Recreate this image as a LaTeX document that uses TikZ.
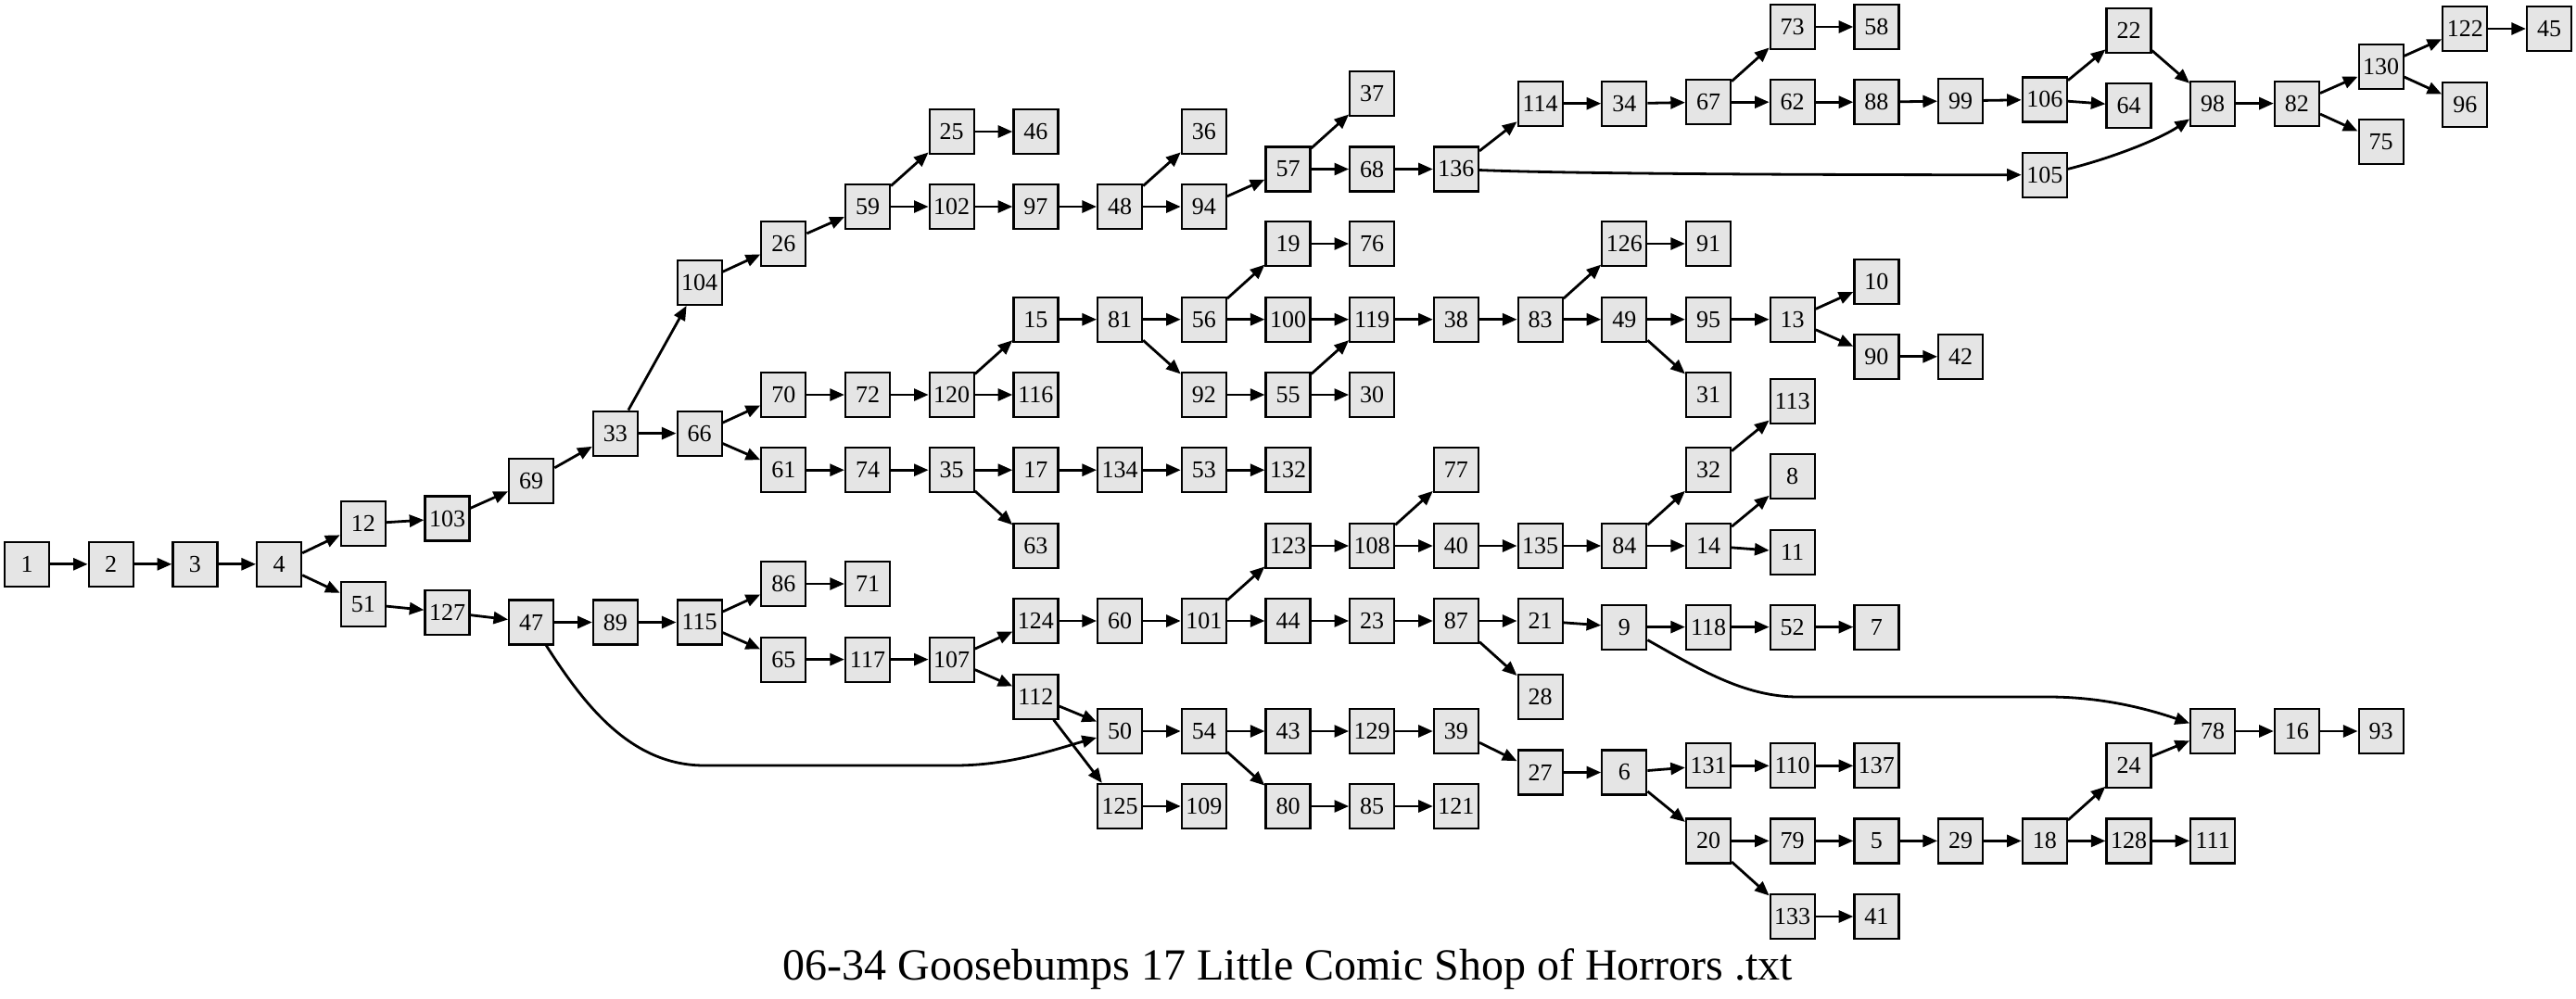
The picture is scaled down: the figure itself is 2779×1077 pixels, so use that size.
\documentclass[tikz,border=0pt]{standalone}
\usepackage{fontspec}
\setmainfont{Liberation Serif}
\usetikzlibrary{arrows.meta}

\definecolor{boxgrey}{RGB}{229,229,229}
\tikzset{every picture/.style={line width=1pt}}
\tikzset{
  pg/.style={draw=black, fill=boxgrey, line width=1.1pt, minimum width=24pt, minimum height=24pt, inner sep=0pt, font=\fontsize{13}{15}\selectfont},
  link/.style={line width=1.4pt, -{Triangle[length=7.8pt,width=6.5pt]}},
}

\begin{document}
\begin{tikzpicture}[x=0.5pt,y=0.5pt,yscale=-1,xscale=1]
	%set diagram area: 2779 x 1077
	\useasboundingbox (0,0) rectangle (2779,1077);

	%Shape: Pages, left part
	\node [pg] (p1) at (29,608.8) {1};
	\node [pg] (p2) at (119.7,608.8) {2};
	\node [pg] (p3) at (210.4,608.8) {3};
	\node [pg] (p4) at (301.1,608.8) {4};
	\node [pg] (p12) at (391.8,565.3) {12};
	\node [pg] (p51) at (391.8,651.6) {51};
	\node [pg] (p103) at (482.5,559.5) {103};
	\node [pg] (p127) at (482.5,660.7) {127};
	\node [pg] (p69) at (573.2,519) {69};
	\node [pg] (p47) at (573.2,671.5) {47};
	\node [pg] (p33) at (663.9,467.6) {33};
	\node [pg] (p89) at (663.9,671.5) {89};
	\node [pg] (p104) at (754.6,304.8) {104};
	\node [pg] (p66) at (754.6,467.6) {66};
	\node [pg] (p115) at (754.6,671.5) {115};
	\node [pg] (p26) at (845.3,263) {26};
	\node [pg] (p70) at (845.3,426) {70};
	\node [pg] (p61) at (845.3,507.2) {61};
	\node [pg] (p86) at (845.3,630) {86};
	\node [pg] (p65) at (845.3,711.6) {65};
	\node [pg] (p59) at (936,223) {59};
	\node [pg] (p72) at (936,426) {72};
	\node [pg] (p74) at (936,507.2) {74};
	\node [pg] (p71) at (936,630) {71};
	\node [pg] (p117) at (936,711.6) {117};
	\node [pg] (p25) at (1026.7,142) {25};
	\node [pg] (p102) at (1026.7,223) {102};
	\node [pg] (p120) at (1026.7,426) {120};
	\node [pg] (p35) at (1026.7,507.2) {35};
	\node [pg] (p107) at (1026.7,711.6) {107};
	\node [pg] (p46) at (1117.4,142) {46};
	\node [pg] (p97) at (1117.4,223) {97};
	\node [pg] (p15) at (1117.4,344.7) {15};
	\node [pg] (p116) at (1117.4,426) {116};
	\node [pg] (p17) at (1117.4,507.2) {17};
	\node [pg] (p63) at (1117.4,589) {63};
	\node [pg] (p124) at (1117.4,670) {124};
	\node [pg] (p112) at (1117.4,751.6) {112};
	\node [pg] (p48) at (1208.1,223) {48};
	\node [pg] (p81) at (1208.1,344.7) {81};
	\node [pg] (p134) at (1208.1,507.2) {134};
	\node [pg] (p60) at (1208.1,670) {60};
	\node [pg] (p50) at (1208.1,789) {50};
	\node [pg] (p125) at (1208.1,870) {125};
	\node [pg] (p36) at (1298.8,142) {36};
	\node [pg] (p94) at (1298.8,223) {94};
	\node [pg] (p56) at (1298.8,344.7) {56};
	\node [pg] (p92) at (1298.8,426) {92};
	\node [pg] (p53) at (1298.8,507.2) {53};
	\node [pg] (p101) at (1298.8,670) {101};
	\node [pg] (p54) at (1298.8,789) {54};
	\node [pg] (p109) at (1298.8,870) {109};
	%Shape: Pages, middle part
	\node [pg] (p57) at (1389.5,182.5) {57};
	\node [pg] (p19) at (1389.5,263) {19};
	\node [pg] (p100) at (1389.5,344.7) {100};
	\node [pg] (p55) at (1389.5,426) {55};
	\node [pg] (p132) at (1389.5,507.2) {132};
	\node [pg] (p123) at (1389.5,589) {123};
	\node [pg] (p44) at (1389.5,670) {44};
	\node [pg] (p43) at (1389.5,789) {43};
	\node [pg] (p80) at (1389.5,870) {80};
	\node [pg] (p37) at (1480.2,100.9) {37};
	\node [pg] (p68) at (1480.2,182.5) {68};
	\node [pg] (p76) at (1480.2,263) {76};
	\node [pg] (p119) at (1480.2,344.7) {119};
	\node [pg] (p30) at (1480.2,426) {30};
	\node [pg] (p108) at (1480.2,589) {108};
	\node [pg] (p23) at (1480.2,670) {23};
	\node [pg] (p129) at (1480.2,789) {129};
	\node [pg] (p85) at (1480.2,870) {85};
	\node [pg] (p136) at (1570.9,182.5) {136};
	\node [pg] (p38) at (1570.9,344.7) {38};
	\node [pg] (p77) at (1570.9,507.2) {77};
	\node [pg] (p40) at (1570.9,589) {40};
	\node [pg] (p87) at (1570.9,670) {87};
	\node [pg] (p39) at (1570.9,789) {39};
	\node [pg] (p121) at (1570.9,870) {121};
	\node [pg] (p114) at (1661.6,111.7) {114};
	\node [pg] (p83) at (1661.6,344.7) {83};
	\node [pg] (p135) at (1661.6,589) {135};
	\node [pg] (p21) at (1661.6,670) {21};
	\node [pg] (p28) at (1661.6,751.6) {28};
	\node [pg] (p27) at (1661.6,833.5) {27};
	\node [pg] (p34) at (1752.3,111.7) {34};
	\node [pg] (p126) at (1752.3,263) {126};
	\node [pg] (p49) at (1752.3,344.7) {49};
	\node [pg] (p84) at (1752.3,589) {84};
	\node [pg] (p9) at (1752.3,676.6) {9};
	\node [pg] (p6) at (1752.3,833.5) {6};
	\node [pg] (p67) at (1843,110.2) {67};
	\node [pg] (p91) at (1843,263) {91};
	\node [pg] (p95) at (1843,344.7) {95};
	\node [pg] (p31) at (1843,426) {31};
	\node [pg] (p32) at (1843,507.2) {32};
	\node [pg] (p14) at (1843,589) {14};
	\node [pg] (p118) at (1843,676.6) {118};
	\node [pg] (p131) at (1843,826.3) {131};
	\node [pg] (p20) at (1843,907.4) {20};
	%Shape: Pages, right part
	\node [pg] (p73) at (1933.7,29) {73};
	\node [pg] (p62) at (1933.7,110.2) {62};
	\node [pg] (p13) at (1933.7,344.7) {13};
	\node [pg] (p113) at (1933.7,433) {113};
	\node [pg] (p8) at (1933.7,514) {8};
	\node [pg] (p11) at (1933.7,595.8) {11};
	\node [pg] (p52) at (1933.7,676.6) {52};
	\node [pg] (p110) at (1933.7,826.3) {110};
	\node [pg] (p79) at (1933.7,907.4) {79};
	\node [pg] (p133) at (1933.7,989) {133};
	\node [pg] (p58) at (2024.4,29) {58};
	\node [pg] (p88) at (2024.4,110.2) {88};
	\node [pg] (p10) at (2024.4,303.7) {10};
	\node [pg] (p90) at (2024.4,384.8) {90};
	\node [pg] (p7) at (2024.4,676.6) {7};
	\node [pg] (p137) at (2024.4,826.3) {137};
	\node [pg] (p5) at (2024.4,907.4) {5};
	\node [pg] (p41) at (2024.4,989) {41};
	\node [pg] (p99) at (2115.1,108.8) {99};
	\node [pg] (p42) at (2115.1,384.8) {42};
	\node [pg] (p29) at (2115.1,907.4) {29};
	\node [pg] (p106) at (2205.8,107.4) {106};
	\node [pg] (p105) at (2205.8,188.7) {105};
	\node [pg] (p18) at (2205.8,907.4) {18};
	\node [pg] (p22) at (2296.5,32.7) {22};
	\node [pg] (p64) at (2296.5,114) {64};
	\node [pg] (p24) at (2296.5,826.3) {24};
	\node [pg] (p128) at (2296.5,907.4) {128};
	\node [pg] (p98) at (2387.2,111.6) {98};
	\node [pg] (p78) at (2387.2,789) {78};
	\node [pg] (p111) at (2387.2,907.4) {111};
	\node [pg] (p82) at (2477.9,111.6) {82};
	\node [pg] (p16) at (2477.9,789) {16};
	\node [pg] (p130) at (2568.6,71.6) {130};
	\node [pg] (p75) at (2568.6,153) {75};
	\node [pg] (p93) at (2568.6,789) {93};
	\node [pg] (p122) at (2659.3,31) {122};
	\node [pg] (p96) at (2659.3,113) {96};
	\node [pg] (p45) at (2750,31) {45};

	%Straight Lines: start and upper branches
	\draw [link] (p1) -- (p2);
	\draw [link] (p2) -- (p3);
	\draw [link] (p3) -- (p4);
	\draw [link] (p4) -- (p12);
	\draw [link] (p4) -- (p51);
	\draw [link] (p12) -- (p103);
	\draw [link] (p103) -- (p69);
	\draw [link] (p69) -- (p33);
	\draw [link] (p33) -- (p104);
	\draw [link] (p33) -- (p66);
	\draw [link] (p104) -- (p26);
	\draw [link] (p26) -- (p59);
	\draw [link] (p59) -- (p25);
	\draw [link] (p59) -- (p102);
	\draw [link] (p25) -- (p46);
	\draw [link] (p102) -- (p97);
	\draw [link] (p97) -- (p48);
	\draw [link] (p48) -- (p36);
	\draw [link] (p48) -- (p94);
	\draw [link] (p94) -- (p57);
	\draw [link] (p57) -- (p37);
	\draw [link] (p57) -- (p68);
	\draw [link] (p68) -- (p136);
	\draw [link] (p136) -- (p114);
	\draw [link] (p114) -- (p34);
	\draw [link] (p34) -- (p67);
	\draw [link] (p67) -- (p73);
	\draw [link] (p67) -- (p62);
	\draw [link] (p73) -- (p58);
	\draw [link] (p62) -- (p88);
	\draw [link] (p88) -- (p99);
	\draw [link] (p99) -- (p106);
	\draw [link] (p106) -- (p22);
	\draw [link] (p106) -- (p64);
	\draw [link] (p22) -- (p98);
	\draw [link] (p98) -- (p82);
	\draw [link] (p82) -- (p130);
	\draw [link] (p82) -- (p75);
	\draw [link] (p130) -- (p122);
	\draw [link] (p130) -- (p96);
	\draw [link] (p122) -- (p45);
	%Curve Lines
	\draw [link] (p136) .. controls (1680,187) and (1900,188.7) .. (p105);
	\draw [link] (p105) .. controls (2280,170) and (2330,150) .. (p98);

	%Straight Lines: branch of 66
	\draw [link] (p66) -- (p70);
	\draw [link] (p66) -- (p61);
	\draw [link] (p70) -- (p72);
	\draw [link] (p72) -- (p120);
	\draw [link] (p120) -- (p15);
	\draw [link] (p120) -- (p116);
	\draw [link] (p15) -- (p81);
	\draw [link] (p81) -- (p56);
	\draw [link] (p81) -- (p92);
	\draw [link] (p56) -- (p19);
	\draw [link] (p56) -- (p100);
	\draw [link] (p19) -- (p76);
	\draw [link] (p100) -- (p119);
	\draw [link] (p92) -- (p55);
	\draw [link] (p55) -- (p119);
	\draw [link] (p55) -- (p30);
	\draw [link] (p119) -- (p38);
	\draw [link] (p38) -- (p83);
	\draw [link] (p83) -- (p126);
	\draw [link] (p83) -- (p49);
	\draw [link] (p126) -- (p91);
	\draw [link] (p49) -- (p95);
	\draw [link] (p49) -- (p31);
	\draw [link] (p95) -- (p13);
	\draw [link] (p13) -- (p10);
	\draw [link] (p13) -- (p90);
	\draw [link] (p90) -- (p42);
	\draw [link] (p61) -- (p74);
	\draw [link] (p74) -- (p35);
	\draw [link] (p35) -- (p17);
	\draw [link] (p35) -- (p63);
	\draw [link] (p17) -- (p134);
	\draw [link] (p134) -- (p53);
	\draw [link] (p53) -- (p132);

	%Straight Lines: branch of 51
	\draw [link] (p51) -- (p127);
	\draw [link] (p127) -- (p47);
	\draw [link] (p47) -- (p89);
	\draw [link] (p89) -- (p115);
	\draw [link] (p115) -- (p86);
	\draw [link] (p115) -- (p65);
	\draw [link] (p86) -- (p71);
	\draw [link] (p65) -- (p117);
	\draw [link] (p117) -- (p107);
	\draw [link] (p107) -- (p124);
	\draw [link] (p107) -- (p112);
	\draw [link] (p124) -- (p60);
	\draw [link] (p60) -- (p101);
	\draw [link] (p101) -- (p123);
	\draw [link] (p101) -- (p44);
	\draw [link] (p123) -- (p108);
	\draw [link] (p108) -- (p77);
	\draw [link] (p108) -- (p40);
	\draw [link] (p40) -- (p135);
	\draw [link] (p135) -- (p84);
	\draw [link] (p84) -- (p32);
	\draw [link] (p84) -- (p14);
	\draw [link] (p32) -- (p113);
	\draw [link] (p14) -- (p8);
	\draw [link] (p14) -- (p11);
	\draw [link] (p44) -- (p23);
	\draw [link] (p23) -- (p87);
	\draw [link] (p87) -- (p21);
	\draw [link] (p87) -- (p28);
	\draw [link] (p21) -- (p9);
	\draw [link] (p9) -- (p118);
	\draw [link] (p118) -- (p52);
	\draw [link] (p52) -- (p7);
	\draw [link] (p112) -- (p50);
	\draw [link] (p112) -- (p125);
	\draw [link] (p125) -- (p109);
	\draw [link] (p50) -- (p54);
	\draw [link] (p54) -- (p43);
	\draw [link] (p54) -- (p80);
	\draw [link] (p43) -- (p129);
	\draw [link] (p129) -- (p39);
	\draw [link] (p39) -- (p27);
	\draw [link] (p27) -- (p6);
	\draw [link] (p6) -- (p131);
	\draw [link] (p6) -- (p20);
	\draw [link] (p131) -- (p110);
	\draw [link] (p110) -- (p137);
	\draw [link] (p80) -- (p85);
	\draw [link] (p85) -- (p121);
	\draw [link] (p20) -- (p79);
	\draw [link] (p20) -- (p133);
	\draw [link] (p79) -- (p5);
	\draw [link] (p5) -- (p29);
	\draw [link] (p29) -- (p18);
	\draw [link] (p133) -- (p41);
	\draw [link] (p18) -- (p24);
	\draw [link] (p18) -- (p128);
	\draw [link] (p24) -- (p78);
	\draw [link] (p128) -- (p111);
	\draw [link] (p78) -- (p16);
	\draw [link] (p16) -- (p93);
	%Curve Lines
	\draw [link] (p47) .. controls (630,760) and (680,826) .. (760,826) -- (1030,826) .. controls (1090,826) and (1140,808) .. (p50);
	\draw [link] (p9) .. controls (1830,720) and (1880,752) .. (1940,752) -- (2210,752) .. controls (2270,752) and (2320,766) .. (p78);

	% Text Node
	\node [anchor=base, inner sep=0pt, font=\fontsize{24}{28}\selectfont] (title) at (1389.5,1057) {06-34 Goosebumps 17 Little Comic Shop of Horrors .txt};
\end{tikzpicture}
\end{document}
